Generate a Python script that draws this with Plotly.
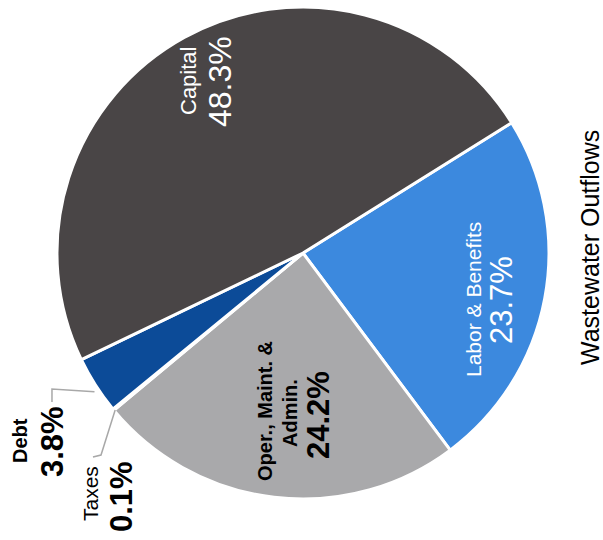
import math
import plotly.graph_objects as go

# Wastewater outflows by category (percent of total)
categories = ["Labor & Benefits", "Oper., Maint. & Admin.", "Taxes", "Debt", "Capital"]
shares = [23.7, 24.2, 0.1, 3.8, 48.3]
slice_colors = ["#3c89de", "#a9a9ab", "#6d6e71", "#0c4b98", "#494546"]

W, H = 603, 540
FONT = "Liberation Sans, Arial, sans-serif"

# pie placement (paper fractions)
dom_x = [0.0945, 0.9104]
dom_y = [0.0759, 0.9870]
start_angle = 58  # degrees clockwise from 12 o'clock

fig = go.Figure(go.Pie(
    labels=categories,
    values=shares,
    sort=False,
    direction="clockwise",
    rotation=start_angle,
    marker=dict(colors=slice_colors, line=dict(color="white", width=3)),
    textinfo="none",
    hoverinfo="label+percent",
    domain=dict(x=dom_x, y=dom_y),
    showlegend=False,
))

# pixel geometry of the pie, used to attach leader lines to slice edges
cx = W * (dom_x[0] + dom_x[1]) / 2
cy = H * (1 - (dom_y[0] + dom_y[1]) / 2)
rad = min(W * (dom_x[1] - dom_x[0]), H * (dom_y[1] - dom_y[0])) / 2
total = sum(shares)


def rim_point(cat, frac=0.5, r_scale=1.0):
    i = categories.index(cat)
    before = sum(shares[:i])
    ang = math.radians(start_angle + 360 * (before + frac * shares[i]) / total)
    return cx + rad * r_scale * math.sin(ang), cy - rad * r_scale * math.cos(ang)


def px(x, y):
    return x / W, 1 - y / H


annotations = []


def label(x, y, text, size, color="black", bold=False):
    ax, ay = px(x, y)
    annotations.append(dict(
        x=ax, y=ay, xref="paper", yref="paper", text=f"<b>{text}</b>" if bold else text,
        showarrow=False, textangle=-90, xanchor="center", yanchor="middle",
        font=dict(family=FONT, size=size, color=color),
    ))


LBL, VAL = 21, 31
label(188, 81, "Capital", 22, "white")
label(220, 82, f"{shares[4]}%", 32, "white")
label(473, 300, "Labor &amp; Benefits", LBL, "white")
label(501, 300, f"{shares[0]}%", VAL, "white")
label(265, 411, "Oper., Maint. &amp;", 20, "black", True)
label(290, 413, "Admin.", 20, "black", True)
label(318, 415, f"{shares[1]}%", VAL, "black", True)
label(20, 441, "Debt", 20, "black", True)
label(52, 442, f"{shares[3]}%", VAL, "black", True)
label(90, 493, "Taxes", LBL, "black")
label(121, 497, f"{shares[2]}%", VAL, "black", True)
label(590, 248, "Wastewater Outflows", 25, "black")

# leader lines for the two small slices
shapes = []


def leader(points):
    path = "M " + " L ".join(f"{px(x, y)[0]:.4f},{px(x, y)[1]:.4f}" for x, y in points)
    shapes.append(dict(type="path", path=path, xref="paper", yref="paper",
                       line=dict(color="#a8a8a8", width=1.5)))


dx, dy = rim_point("Debt", 0.35, 1.0)
leader([(52, 402), (52, 389), (dx - 6, dy - 1)])
tx, ty = rim_point("Taxes", 0.5, 0.99)
leader([(tx, ty + 2), (101, 455), (93, 457)])

fig.update_layout(
    width=W, height=H,
    margin=dict(l=0, r=0, t=0, b=0),
    paper_bgcolor="white", plot_bgcolor="white",
    annotations=annotations, shapes=shapes,
)

fig.write_html("out.html")
